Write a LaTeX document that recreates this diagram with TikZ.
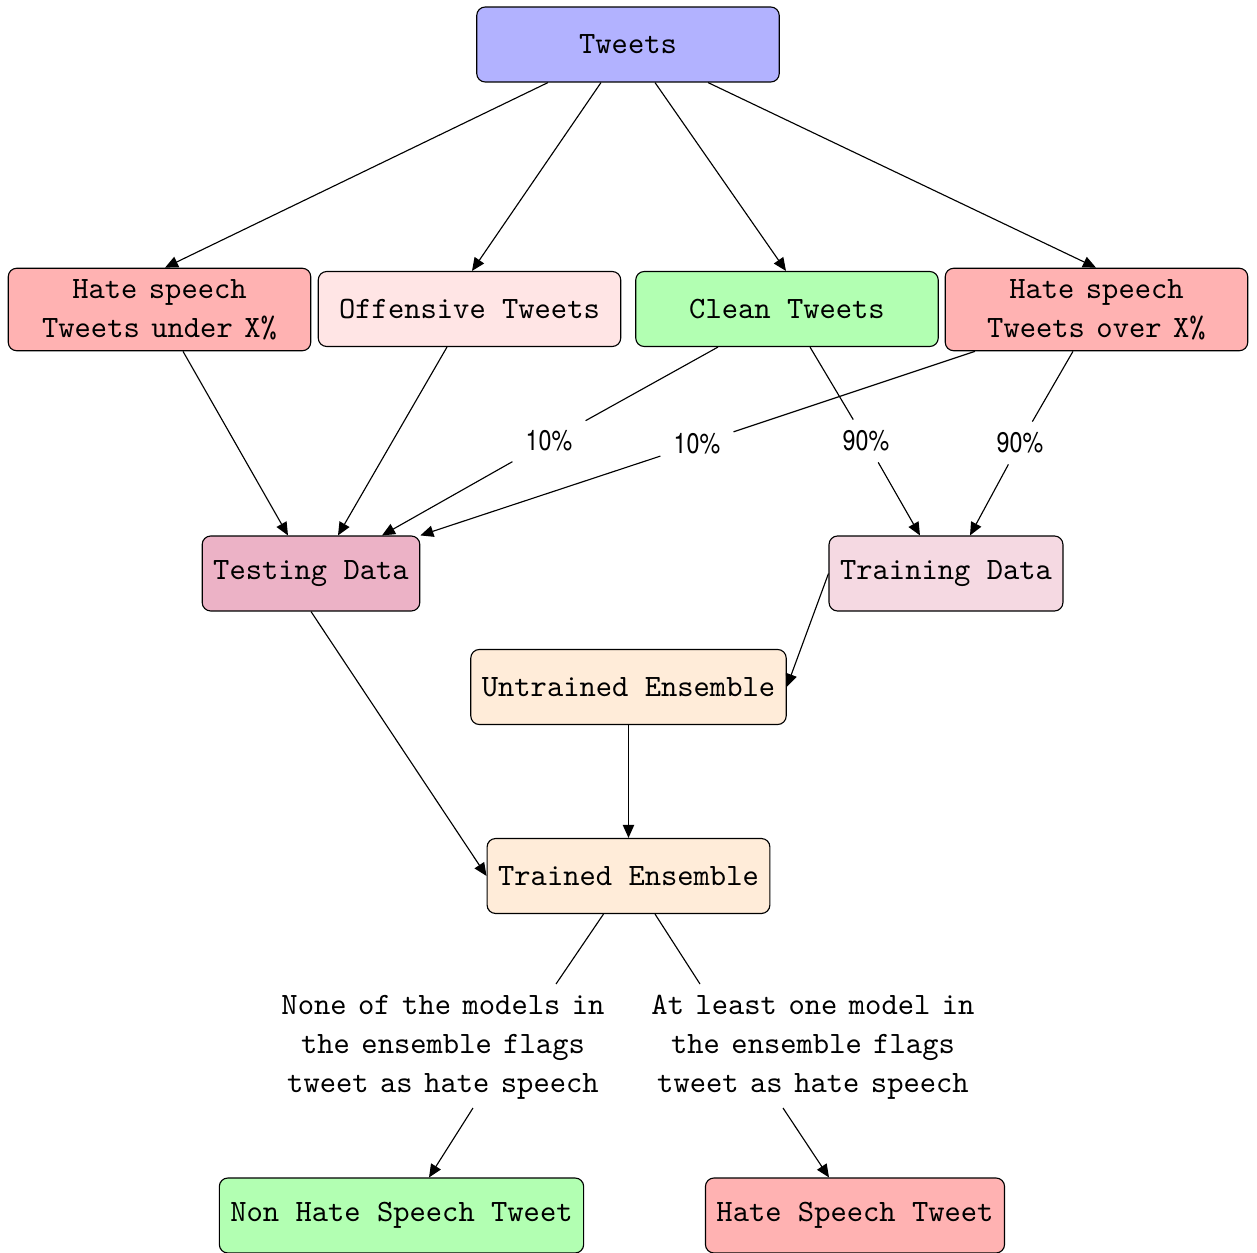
\documentclass[tikz,border=0pt]{standalone}
\usepackage{fontspec}
\setsansfont{TeX Gyre Heros}
\usetikzlibrary{arrows.meta,calc}
\begin{document}
\begin{tikzpicture}[x=0.3527pt,y=-0.3527pt,
  box/.style={draw=black, line width=0.4pt, rounded corners=3pt,
    font={\fontsize{10.95pt}{13.75pt}\selectfont\ttfamily},
    inner sep=3.88pt, minimum height=26.45pt, align=center},
  wide/.style={box, minimum width=106.7pt},
  tight/.style={font={\fontsize{10.95pt}{13.75pt}\selectfont\ttfamily\spaceskip=4.05pt\relax}},
  pct/.style={font={\fontsize{10pt}{12pt}\selectfont\sffamily}, inner xsep=4.5pt, inner ysep=3.7pt},
  note/.style={font={\fontsize{10.95pt}{13.75pt}\selectfont\ttfamily\spaceskip=4.05pt\relax},
    align=center, inner sep=0pt},
  arr/.style={-{Triangle[length=4.6pt,width=4pt]}, line width=0.4pt},
  ln/.style={line width=0.4pt}]
\useasboundingbox (0,0) rectangle (1257,1253);

% nodes
\node[wide, fill=blue!30]  (tw)   at (628,44.5)    {Tweets};
\node[wide, tight, fill=red!30] (hu) at (159.5,309.5) {Hate speech\\Tweets under X\%};
\node[wide, fill=red!10]   (off)  at (469.5,309)   {Offensive Tweets};
\node[wide, fill=green!30] (cl)   at (787,309)     {Clean Tweets};
\node[wide, tight, fill=red!30] (ho) at (1096.5,309.5) {Hate speech\\Tweets over X\%};
\node[box, fill=purple!30] (test) at (311,573.5)   {Testing Data};
\node[box, fill=purple!15] (train) at (946,573.5)  {Training Data};
\node[box, fill=orange!15] (untr) at (628.5,687)   {Untrained Ensemble};
\node[box, fill=orange!15] (trn)  at (628.5,876)   {Trained Ensemble};
\node[box, fill=green!30]  (nh)   at (401.5,1215.5) {Non Hate Speech Tweet};
\node[box, fill=red!30]    (hs)   at (855,1215.5)  {Hate Speech Tweet};

% labels
\node[pct] (l1) at (549,441)  {\scalebox{0.82}[1]{10\%}};
\node[pct] (l2) at (697,444)  {\scalebox{0.82}[1]{10\%}};
\node[pct] (l3) at (866,441)  {\scalebox{0.82}[1]{90\%}};
\node[pct] (l4) at (1020,443) {\scalebox{0.82}[1]{90\%}};
\node[note] (l5) at (443,1047) {None of the models in\\the ensemble flags\\tweet as hate speech};
\node[note] (l6) at (813,1047) {At least one model in\\the ensemble flags\\tweet as hate speech};

% edges
\draw[arr] ($(tw.south)+(-80,0)$) -- ($(hu.north)+(5.5,0)$);
\draw[arr] ($(tw.south)+(-27,0)$) -- ($(off.north)+(2.5,0)$);
\draw[arr] ($(tw.south)+(27,0)$) -- ($(cl.north)+(-1,0)$);
\draw[arr] ($(tw.south)+(80,0)$) -- ($(ho.north)+(-0.5,0)$);

\draw[arr] ($(hu.south)+(23.5,0)$) -- ($(test.north)+(-23,0)$);
\draw[arr] ($(off.south)+(-22.5,0)$) -- ($(test.north)+(27,0)$);

\draw[ln]  ($(cl.south)+(-69,0)$) -- (l1);
\draw[arr] (l1) -- ($(test.north)+(71,0)$);
\draw[ln]  ($(ho.south)+(-121.5,0)$) -- (l2);
\draw[arr] (l2) -- (test.north east);
\draw[ln]  ($(cl.south)+(23,0)$) -- (l3);
\draw[arr] (l3) -- ($(train.north)+(-26,0)$);
\draw[ln]  ($(ho.south)+(-23.5,0)$) -- (l4);
\draw[arr] (l4) -- ($(train.north)+(24,0)$);

\draw[arr] (test.south) -- (trn.west);
\draw[arr] (train.west) -- (untr.east);
\draw[arr] (untr) -- (trn);

\draw[ln]  ($(trn.south)+(-25,0)$) -- ($(l5)+(113,-63)$);
\draw[arr] ($(l5)+(30,61)$) -- ($(nh.north)+(27.5,0)$);
\draw[ln]  ($(trn.south)+(26.5,0)$) -- ($(l6)+(-113,-63)$);
\draw[arr] ($(l6)+(-30,61)$) -- ($(hs.north)+(-26,0)$);
\end{tikzpicture}
\end{document}
